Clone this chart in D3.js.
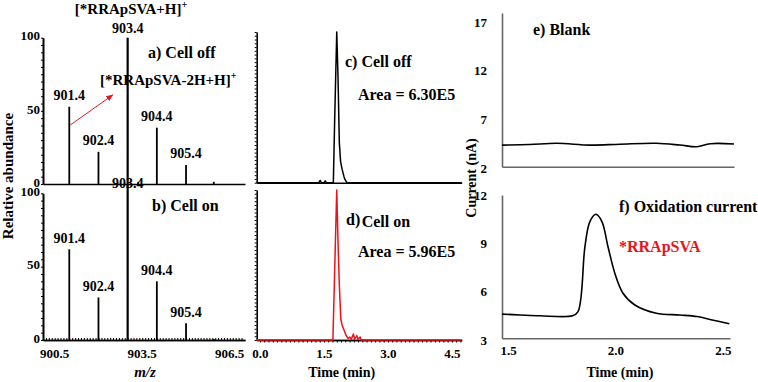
<!DOCTYPE html>
<html>
<head>
<meta charset="utf-8">
<script src="https://cdn.jsdelivr.net/npm/d3@7"></script>
<style>
    body { margin: 0; background: #fff; }
</style>
</head>
<body>
<svg id="chart"></svg>
<script>
(function () {

    // mass spectra (m/z sticks)
    var mzMain = [901.4, 902.4, 903.4, 904.4, 905.4];
    var mzMainLabels = ["901.4", "902.4", "903.4", "904.4", "905.4"];
    var offMain = [52.8, 22, 100, 38.5, 13];
    var onMain = [61.8, 29, 106, 40, 11.4];
    var mzMinor = [903.76, 906.35];
    var offMinor = [1.5, 1.5];
    var onMinor = [0, 0.6];
    var mzTicks = [900.5, 903.5, 906.5];

    // chromatograms (relative intensity vs time)
    var offTime = [-0.08, 1.38, 1.41, 1.44, 1.50, 1.53, 1.56, 1.72, 1.75, 1.80, 1.83, 1.86, 1.89, 1.925, 1.97, 1.995, 2.04, 4.73];
    var offValue = [0, 0, 1.5, 0, 0, 1.2, 0, 0, 40, 100, 70, 27, 14, 9, 4, 2, 0, 0];
    var onTime = [-0.08, 1.71, 1.75, 1.80, 1.83, 1.86, 1.895, 1.925, 1.97, 2.02, 2.07, 2.11, 2.14, 2.19, 2.22, 2.27, 2.30, 2.35, 2.37, 4.73];
    var onValue = [0, 0, 45, 100, 65, 37, 14, 10, 6.7, 3, 1, 2, 0.5, 4, 0.5, 3, 0.5, 2, 0, 0];
    var timeTicks = [0, 1.5, 3.0, 4.5];

    // electrochemical currents (nA)
    var blankTime = [1.472, 1.60, 1.727, 1.881, 2.02, 2.19, 2.30, 2.378, 2.44, 2.551];
    var blankValue = [4.36, 4.42, 4.54, 4.36, 4.45, 4.54, 4.36, 4.19, 4.5, 4.47];
    var oxTime = [1.472, 1.556, 1.65, 1.80, 1.826, 1.858, 1.881, 1.909, 1.937, 1.965, 1.998, 2.035, 2.09, 2.19, 2.30, 2.38, 2.45, 2.53];
    var oxValue = [4.6, 4.55, 4.5, 4.5, 4.76, 8.8, 10.35, 10.8, 10.35, 8.8, 7.1, 5.9, 5.17, 4.66, 4.55, 4.45, 4.24, 4.0];
    var blankTicks = [2, 7, 12, 17];
    var oxTicks = [3, 6, 9, 12];
    var ecTimeTicks = [1.5, 2.0, 2.5];

    var width = 758;
    var height = 382;
    var red = "#e8141c";
    var axisGray = "#666";
    var fontStack = "'Liberation Serif', 'Times New Roman', Times, 'DejaVu Serif', serif";

    var svg = d3.select("#chart")
        .attr("width", width)
        .attr("height", height)
        .attr("font-family", fontStack)
        .attr("font-weight", "bold");

    svg.append("defs").append("marker")
        .attr("id", "arrow")
        .attr("viewBox", "0 0 10 10")
        .attr("refX", 9)
        .attr("refY", 5)
        .attr("markerWidth", 7)
        .attr("markerHeight", 7)
        .attr("orient", "auto")
        .append("path")
        .attr("d", "M0,1L10,5L0,9Z")
        .attr("fill", red);

    function zip(xs, ys) {
        return xs.map(function (x, i) { return [x, ys[i]]; });
    }

    function styleAxis(g, color, fontSize) {
        g.attr("font-family", fontStack).attr("font-size", fontSize).attr("font-weight", "bold");
        g.select(".domain").attr("stroke", color).attr("stroke-width", 1.6);
        g.selectAll(".tick line").attr("stroke", color);
        g.selectAll(".tick text").attr("fill", "#000");
    }

    function addText(x, y, str, size, anchor, color) {
        return svg.append("text")
            .attr("x", x)
            .attr("y", y)
            .attr("text-anchor", anchor || "start")
            .attr("fill", color || "#000")
            .attr("font-size", size)
            .text(str);
    }

    // ---------- left: mass spectra ----------
    var xMz = d3.scaleLinear().domain([900.5, 907.42]).range([43, 245]);
    var yMzTop = d3.scaleLinear().domain([0, 100]).range([184, 37.7]);
    var yMzBot = d3.scaleLinear().domain([0, 100]).range([340, 193.3]);

    function drawSpectrum(yScale, main, minor, showTicks) {
        var yAxis = svg.append("g")
            .attr("transform", "translate(" + xMz.range()[0] + ",0)")
            .call(d3.axisLeft(yScale).tickValues([0, 50, 100]).tickSize(0).tickPadding(3).tickSizeOuter(0));
        styleAxis(yAxis, "#000", 13);
        yAxis.selectAll(".tick text").attr("y", -2);
        var yMinor = svg.append("g")
            .attr("transform", "translate(" + xMz.range()[0] + ",0)")
            .call(d3.axisLeft(yScale).tickValues(d3.range(0, 101, 5)).tickSize(2).tickFormat("").tickSizeOuter(0));
        styleAxis(yMinor, "#000", 13);

        var xAxis = svg.append("g")
            .attr("transform", "translate(0," + yScale(0) + ")")
            .call(d3.axisBottom(xMz).tickValues(showTicks ? mzTicks : []).tickSize(0).tickPadding(9)
                .tickFormat(d3.format(".1f")).tickSizeOuter(0));
        styleAxis(xAxis, "#000", 13);
        xAxis.selectAll(".tick text").attr("dx", 11);
        if (showTicks) {
            var xMinor = svg.append("g")
                .attr("transform", "translate(0," + yScale(0) + ")")
                .call(d3.axisBottom(xMz).tickValues(d3.range(900.5, 907.4, 0.1)).tickSize(-2).tickFormat("").tickSizeOuter(0));
            styleAxis(xMinor, "#000", 13);
        }

        var sticks = zip(mzMain, main).concat(zip(mzMinor, minor));
        svg.append("g").selectAll("line")
            .data(sticks)
            .enter()
            .append("line")
            .attr("x1", function (d) { return xMz(d[0]); })
            .attr("x2", function (d) { return xMz(d[0]); })
            .attr("y1", yScale(0))
            .attr("y2", function (d) { return yScale(d[1]); })
            .attr("stroke", "#000")
            .attr("stroke-width", function (d) { return d[1] > 90 ? 2.2 : 1.8; });

        svg.append("g").selectAll("text")
            .data(zip(mzMain, main))
            .enter()
            .append("text")
            .attr("x", function (d) { return xMz(d[0]); })
            .attr("y", function (d, i) { return Math.max(yScale(d[1]), yScale(100)) - (i === 2 ? 5 : 6.5); })
            .attr("text-anchor", "middle")
            .attr("font-size", 14)
            .text(function (d, i) { return mzMainLabels[i]; });
    }

    drawSpectrum(yMzTop, offMain, offMinor, false);
    drawSpectrum(yMzBot, onMain, onMinor, true);

    var ion1 = addText(131, 14, "[*RRApSVA+H]", 15, "middle");
    ion1.append("tspan").attr("dy", -6).attr("font-size", 10).text("+");
    var ion2 = addText(100, 85, "[*RRApSVA-2H+H]", 15, "start");
    ion2.append("tspan").attr("dy", -6).attr("font-size", 10).text("+");
    addText(148, 58, "a) Cell off", 16);
    addText(152, 211, "b) Cell on", 16);

    svg.append("line")
        .attr("x1", xMz(901.4) + 1)
        .attr("y1", 125)
        .attr("x2", 112.7)
        .attr("y2", 95)
        .attr("stroke", red)
        .attr("stroke-width", 1)
        .attr("marker-end", "url(#arrow)");

    addText(145, 377, "m/z", 15, "middle").attr("font-style", "italic");

    svg.append("text")
        .attr("transform", "translate(13,176) rotate(-90)")
        .attr("text-anchor", "middle")
        .attr("font-size", 15)
        .text("Relative abundance");

    // ---------- middle: chromatograms ----------
    var xTime = d3.scaleLinear().domain([-0.077, 4.73]).range([256.7, 461.7]);
    var yChTop = d3.scaleLinear().domain([0, 100]).range([182.7, 32]);
    var yChBot = d3.scaleLinear().domain([0, 100]).range([340, 190]);

    function drawChrom(yScale, times, values, color, showTicks) {
        var yAxis = svg.append("g")
            .attr("transform", "translate(" + xTime.range()[0] + ",0)")
            .call(d3.axisLeft(yScale).tickValues(d3.range(0, 101, 2.5)).tickSize(2).tickFormat("").tickSizeOuter(0));
        styleAxis(yAxis, "#000", 13);

        var xAxis = svg.append("g")
            .attr("transform", "translate(0," + yScale(0) + ")")
            .call(d3.axisBottom(xTime).tickValues(showTicks ? timeTicks : []).tickSize(0).tickPadding(9)
                .tickFormat(d3.format(".1f")).tickSizeOuter(0));
        styleAxis(xAxis, "#000", 13);
        if (showTicks) {
            var xMinor = svg.append("g")
                .attr("transform", "translate(0," + yScale(0) + ")")
                .call(d3.axisBottom(xTime).tickValues(d3.range(0, 4.75, 0.1)).tickSize(2.5).tickFormat("").tickSizeOuter(0));
            styleAxis(xMinor, "#000", 13);
        }

        var line = d3.line()
            .x(function (d) { return xTime(d[0]); })
            .y(function (d) { return yScale(d[1]); });
        svg.append("path")
            .attr("d", line(zip(times, values)))
            .attr("fill", "none")
            .attr("stroke", color)
            .attr("stroke-width", 1.5)
            .attr("stroke-linejoin", "round");
    }

    drawChrom(yChTop, offTime, offValue, "#000", false);
    drawChrom(yChBot, onTime, onValue, red, true);

    addText(345, 67, "c) Cell off", 16);
    addText(358, 100, "Area = 6.30E5", 16);
    addText(346, 225, "d)", 16);
    addText(361.7, 227, "Cell on", 16);
    addText(358, 257, "Area = 5.96E5", 16);
    addText(341.7, 377, "Time (min)", 14, "middle");

    // ---------- right: oxidation currents ----------
    var xEcTop = d3.scaleLinear().domain([1.472, 2.551]).range([502, 734]);
    var xEcBot = d3.scaleLinear().domain([1.472, 2.533]).range([502, 730]);
    var yBlank = d3.scaleLinear().domain([2.14, 17.92]).range([166.7, 13]);
    var yOx = d3.scaleLinear().domain([3.1, 12.0]).range([338.3, 195]);

    function drawCurrent(xScale, yScale, times, values, yTicks, showTicks) {
        var yAxis = svg.append("g")
            .attr("transform", "translate(" + xScale.range()[0] + ",0)")
            .call(d3.axisLeft(yScale).tickValues(yTicks).tickSize(0).tickPadding(15).tickSizeOuter(0));
        styleAxis(yAxis, axisGray, 13);

        var xAxis = svg.append("g")
            .attr("transform", "translate(0," + yScale.range()[0] + ")")
            .call(d3.axisBottom(xScale).tickValues(showTicks ? ecTimeTicks : []).tickSize(0).tickPadding(7.5)
                .tickFormat(d3.format(".1f")).tickSizeOuter(0));
        styleAxis(xAxis, axisGray, 13);

        var line = d3.line()
            .curve(d3.curveCatmullRom.alpha(0.5))
            .x(function (d) { return xScale(d[0]); })
            .y(function (d) { return yScale(d[1]); });
        svg.append("path")
            .attr("d", line(zip(times, values)))
            .attr("fill", "none")
            .attr("stroke", "#000")
            .attr("stroke-width", 1.6);
    }

    drawCurrent(xEcTop, yBlank, blankTime, blankValue, blankTicks, false);
    drawCurrent(xEcBot, yOx, oxTime, oxValue, oxTicks, true);

    addText(533, 35, "e) Blank", 16);
    addText(619, 212, "f) Oxidation current", 16);
    addText(619, 252, "*RRApSVA", 16, "start", red);
    addText(620, 377, "Time (min)", 14, "middle");

    svg.append("text")
        .attr("transform", "translate(476,178) rotate(-90)")
        .attr("text-anchor", "middle")
        .attr("font-size", 14)
        .text("Current (nA)");

})();
</script>
</body>
</html>
